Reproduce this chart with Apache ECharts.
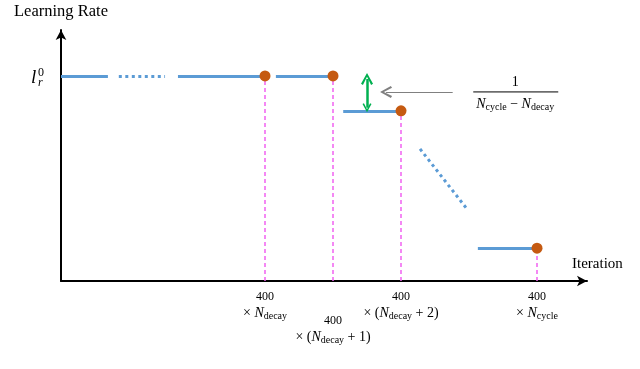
<!DOCTYPE html>
<html>
<head>
<meta charset="utf-8">
<script src="https://cdn.jsdelivr.net/npm/echarts@6/dist/echarts.min.js"></script>
<style>
  html, body { margin: 0; background: #fff; }
  #lr { width: 640px; height: 369px; }
</style>
</head>
<body>
<div id="lr"></div>
<script>
// x in units of 400 iterations, y relative to l_r^0
const stepX = [3, 4, 5, 7] // N_decay, N_decay+1, N_decay+2, N_cycle
const stepY = [1, 1, 0.83, 0.16]
const solidSegs = [
  [[0, 1], [0.69, 1]],
  [[1.72, 1], [3, 1]],
  [[3.16, 1], [4, 1]],
  [[4.15, 0.83], [5, 0.83]],
  [[6.13, 0.16], [7, 0.16]]
]
const dottedSegs = [
  [[0.85, 1], [1.53, 1]],
  [[5.28, 0.644], [5.97, 0.351]]
]
const gapArrow = [[4.5, 0.985], [4.5, 0.845]]
const pointerArrow = [[5.76, 0.922], [4.78, 0.922]]
const tickTop = ['400', '400', '400', '400']
const tickBottom = [
  '{x|× }{N|N}{s|decay}',
  '{x|× (}{N|N}{s|decay}{x| + 1)}',
  '{x|× (}{N|N}{s|decay}{x| + 2)}',
  '{x|× }{N|N}{s|cycle}'
]
const xMax = 7.735

const serif = 'Liberation Serif'
const chevron = 'path://M0,9L5,0L10,9L8.4,10L5,3.2L1.6,10Z'
const richX = {
  n: { fontFamily: serif, fontSize: 12, color: '#000', lineHeight: 16 },
  x: { fontFamily: serif, fontSize: 14, color: '#000', lineHeight: 16 },
  N: { fontFamily: serif, fontSize: 14, fontStyle: 'italic', color: '#000', lineHeight: 16 },
  s: { fontFamily: serif, fontSize: 10, color: '#000', lineHeight: 10, verticalAlign: 'bottom', padding: [4, 0, 0, 0] },
  g: { lineHeight: 24 }
}

const chart = echarts.init(document.getElementById('lr'))
chart.setOption({
  animation: false,
  grid: { left: 61, top: 30, width: 526, height: 251 },
  xAxis: {
    type: 'value',
    min: 0,
    max: xMax,
    axisLine: { lineStyle: { color: '#000', width: 2 }, symbol: ['none', 'arrow'], symbolSize: [8, 10] },
    axisTick: { show: false },
    splitLine: { show: false },
    axisLabel: {
      customValues: stepX,
      margin: 8,
      formatter: (v) => {
        const i = stepX.indexOf(v)
        const head = i === 1 ? '{g| }\n' : ''
        return head + '{n|' + tickTop[i] + '}\n' + tickBottom[i]
      },
      rich: richX
    }
  },
  yAxis: {
    type: 'value',
    min: 0,
    max: 1.224,
    name: 'Learning Rate',
    nameLocation: 'end',
    nameGap: 10,
    nameTextStyle: { fontFamily: serif, fontSize: 16.5, color: '#000', align: 'center' },
    axisLine: { lineStyle: { color: '#000', width: 2 }, symbol: ['none', 'arrow'], symbolSize: [8, 10] },
    axisTick: { show: false },
    axisLabel: { show: false },
    splitLine: { show: false }
  },
  series: [
    {
      type: 'lines',
      coordinateSystem: 'cartesian2d',
      lineStyle: { color: '#5b9bd5', width: 3, opacity: 1 },
      data: solidSegs.map((c) => ({ coords: c }))
    },
    {
      type: 'lines',
      coordinateSystem: 'cartesian2d',
      lineStyle: { color: '#5b9bd5', width: 3, opacity: 1, type: [3, 3.5] },
      data: dottedSegs.map((c) => ({ coords: c }))
    },
    {
      type: 'lines',
      coordinateSystem: 'cartesian2d',
      lineStyle: { color: '#f060f0', width: 1.5, opacity: 1, type: [4, 3] },
      data: stepX.map((x, i) => ({ coords: [[x, 0], [x, stepY[i]]] }))
    },
    {
      type: 'lines',
      coordinateSystem: 'cartesian2d',
      symbol: [chevron, chevron],
      symbolSize: [12, 9],
      lineStyle: { color: '#00b050', width: 2.5, opacity: 1 },
      data: [{ coords: gapArrow }]
    },
    {
      type: 'lines',
      coordinateSystem: 'cartesian2d',
      symbol: ['none', chevron],
      symbolSize: [14, 12],
      lineStyle: { color: '#808080', width: 1, opacity: 1 },
      data: [{ coords: pointerArrow }]
    },
    {
      type: 'scatter',
      symbolSize: 11,
      itemStyle: { color: '#c55a11', opacity: 1 },
      data: stepX.map((x, i) => [x, stepY[i]]),
      z: 5
    }
  ]
})

// labels anchored to data positions
const lr = chart.convertToPixel({ gridIndex: 0 }, [0, 1])
const fr = chart.convertToPixel({ gridIndex: 0 }, [6.68, 0.922])
const xe = chart.convertToPixel({ gridIndex: 0 }, [xMax, 0])
chart.setOption({
  graphic: [
    { type: 'text', x: xe[0] - 15, y: xe[1] - 17, style: { text: 'Iteration', font: '15px "Liberation Serif"', fill: '#000', verticalAlign: 'middle' } },
    { type: 'text', x: lr[0] - 30, y: lr[1] + 2, style: { text: 'l', font: 'italic 19px "Liberation Serif"', fill: '#000', verticalAlign: 'middle' } },
    { type: 'text', x: lr[0] - 23, y: lr[1] - 3, style: { text: '0', font: '12px "Liberation Serif"', fill: '#000', verticalAlign: 'middle' } },
    { type: 'text', x: lr[0] - 23, y: lr[1] + 7, style: { text: 'r', font: 'italic 12px "Liberation Serif"', fill: '#000', verticalAlign: 'middle' } },
    { type: 'text', x: fr[0], y: fr[1] - 10, style: { text: '1', font: '14px "Liberation Serif"', fill: '#000', align: 'center', verticalAlign: 'middle' } },
    { type: 'line', shape: { x1: fr[0] - 42, y1: fr[1], x2: fr[0] + 43, y2: fr[1] }, style: { stroke: '#000', lineWidth: 1 } },
    {
      type: 'text', x: fr[0], y: fr[1] + 12,
      style: {
        text: '{N|N}{s|cycle}{x| − }{N|N}{s|decay}',
        align: 'center', verticalAlign: 'middle',
        rich: richX
      }
    }
  ]
})
</script>
</body>
</html>
